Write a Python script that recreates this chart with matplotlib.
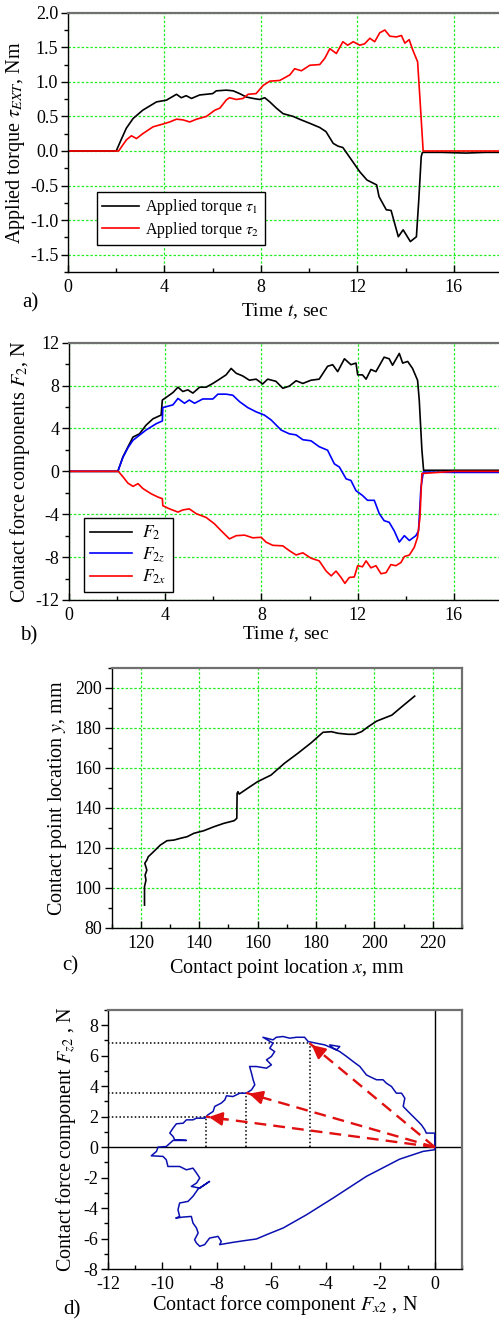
import matplotlib
matplotlib.use('Agg')
import matplotlib.pyplot as plt
from matplotlib.ticker import MultipleLocator

plt.rcParams['font.family'] = ['Liberation Serif', 'DejaVu Serif']
plt.rcParams['mathtext.fontset'] = 'stix'
plt.rcParams['axes.unicode_minus'] = False

# ---- panel a: applied torques ----
t_tau1 = [0, 2.0, 2.2, 2.42, 2.7, 3.1, 3.67, 4.08, 4.5, 4.7, 4.9, 5.12, 5.46, 6.0, 6.15, 6.57,
          6.85, 7.12, 7.4, 7.68, 7.95, 8.16, 8.37, 8.64, 8.92, 9.34, 9.6, 10.03, 10.44, 10.7,
          11.0, 11.2, 11.4, 11.7, 12.1, 12.4, 12.8, 12.9, 13.2, 13.4, 13.7, 13.9, 14.2, 14.45,
          14.55, 14.65, 14.7, 15.5, 16.5, 17.3, 18.0]
tau1 = [0, 0, 0.16, 0.33, 0.47, 0.59, 0.71, 0.735, 0.82, 0.77, 0.8, 0.76, 0.81, 0.83, 0.87, 0.88,
        0.87, 0.83, 0.78, 0.76, 0.745, 0.77, 0.71, 0.62, 0.54, 0.5, 0.46, 0.4, 0.34, 0.28,
        0.11, 0.07, 0.05, -0.1, -0.3, -0.42, -0.49, -0.66, -0.85, -0.86, -1.24, -1.14, -1.31, -1.24,
        -0.7, -0.08, -0.02, -0.02, -0.03, -0.02, -0.02]

t_tau2 = [0, 2.1, 2.42, 2.63, 2.84, 3.1, 3.53, 3.94, 4.22, 4.5, 4.77, 5.05, 5.33, 5.74, 6.09, 6.3,
          6.57, 6.7, 6.98, 7.26, 7.47, 7.8, 8.1, 8.37, 8.78, 9.2, 9.4, 9.68, 10.03, 10.44, 10.65,
          10.86, 11.13, 11.4, 11.6, 11.83, 12.1, 12.3, 12.52, 12.72, 12.93, 13.14, 13.35, 13.62,
          13.83, 13.97, 14.15, 14.3, 14.5, 14.6, 14.73, 16.0, 18.0]
tau2 = [0, 0, 0.16, 0.22, 0.18, 0.25, 0.35, 0.39, 0.42, 0.46, 0.45, 0.42, 0.46, 0.5, 0.59, 0.62,
        0.74, 0.77, 0.745, 0.76, 0.82, 0.83, 0.95, 1.01, 1.02, 1.1, 1.19, 1.16, 1.24, 1.25, 1.34,
        1.48, 1.41, 1.58, 1.53, 1.58, 1.53, 1.55, 1.63, 1.58, 1.71, 1.75, 1.66, 1.65,
        1.67, 1.56, 1.61, 1.46, 1.29, 0.74, 0.0, 0.0, 0.0]

# ---- panel b: contact force components ----
t_f2 = [0, 2.03, 2.24, 2.45, 2.66, 2.93, 3.2, 3.49, 3.83, 3.88, 4.04, 4.32, 4.53, 4.73, 4.94, 5.15,
        5.43, 5.7, 5.98, 6.26, 6.53, 6.74, 6.95, 7.22, 7.5, 7.78, 8.05, 8.26, 8.6, 8.89, 9.16,
        9.44, 9.72, 10.06, 10.4, 10.75, 10.96, 11.17, 11.45, 11.72, 11.93, 12.0, 12.2, 12.35,
        12.55, 12.76, 13.1, 13.31, 13.45, 13.73, 13.87, 14.08, 14.28, 14.49, 14.56, 14.67,
        14.74, 16.0, 18.0]
f2 = [0, 0, 1.34, 2.28, 3.2, 3.5, 4.3, 4.9, 5.25, 6.65, 6.9, 7.35, 7.85, 7.45, 7.6, 7.3,
      7.85, 7.85, 8.2, 8.6, 9.0, 9.6, 9.15, 8.9, 8.5, 8.6, 8.15, 8.6, 8.4, 7.75, 7.95,
      8.45, 8.2, 8.5, 8.6, 9.8, 9.95, 9.3, 10.5, 9.95, 10.1, 9.0, 9.0, 8.6,
      9.5, 9.3, 10.65, 10.5, 9.9, 11.0, 10.1, 10.25, 9.6, 8.5, 6.65, 2.0,
      0.1, 0.1, 0.1]

t_f2z = [0, 2.03, 2.24, 2.45, 2.66, 3.2, 3.63, 3.88, 3.9, 4.32, 4.53, 4.8, 5.0, 5.22, 5.56, 5.98,
         6.19, 6.53, 6.81, 7.09, 7.43, 7.78, 8.12, 8.4, 8.82, 9.16, 9.44, 9.72, 10.06, 10.4,
         10.75, 11.03, 11.24, 11.52, 11.72, 11.93, 12.2, 12.41, 12.69, 12.9, 13.1, 13.31, 13.52,
         13.73, 13.94, 14.15, 14.42, 14.53, 14.63, 14.73, 16.0, 18.0]
f2z = [0, 0, 1.3, 2.2, 2.9, 3.85, 4.45, 4.7, 5.95, 6.2, 6.8, 6.35, 6.65, 6.35, 6.75, 6.75,
       7.2, 7.2, 7.1, 6.5, 5.95, 5.55, 5.25, 4.8, 3.85, 3.5, 3.4, 2.95, 2.85, 2.3,
       1.97, 0.7, 0.4, -0.7, -0.85, -1.8, -2.25, -2.7, -2.7, -3.95, -4.6, -4.75, -5.55,
       -6.6, -6.0, -6.45, -6.0, -5.55, -1.5, -0.06, -0.1, -0.1]

t_f2x = [0, 2.05, 2.24, 2.45, 2.66, 2.87, 3.07, 3.42, 3.7, 3.88, 3.9, 4.18, 4.53, 4.73, 5.0, 5.29,
         5.7, 6.05, 6.33, 6.67, 6.95, 7.3, 7.64, 7.99, 8.19, 8.47, 8.89, 9.16, 9.44, 9.72,
         10.06, 10.4, 10.69, 10.9, 11.1, 11.31, 11.47, 11.65, 11.86, 12.0, 12.2, 12.35, 12.55,
         12.76, 12.97, 13.18, 13.38, 13.59, 13.8, 13.94, 14.15, 14.35, 14.49, 14.59, 14.67,
         16.0, 18.0]
f2x = [0, 0, -0.5, -1.1, -1.4, -1.15, -1.6, -2.1, -2.4, -2.55, -3.2, -3.5, -3.8, -3.6, -3.5, -3.95,
       -4.3, -4.9, -5.55, -6.3, -6.0, -5.95, -6.2, -6.15, -6.6, -6.9, -6.95, -7.4, -7.8, -7.6,
       -8.1, -8.35, -9.3, -9.75, -9.3, -9.9, -10.45, -9.9, -9.85, -8.8, -8.9, -8.35, -9.0,
       -8.8, -9.55, -9.45, -8.7, -8.8, -8.5, -7.95, -7.8, -7.1, -6.15, -4.3, -0.2,
       0.0, 0.0]

# ---- panel c: contact point trajectory ----
cx = [121.3, 121.3, 121.8, 121.5, 122.1, 121.4, 122.1, 122.6, 124.4, 126.7, 129.0, 131.3, 133.6,
      135.9, 138.2, 141.6, 145.1, 148.5, 152.0, 152.9, 153.0, 153.3, 153.7, 156.6, 160.0, 164.6,
      169.2, 173.8, 178.4, 182.4, 185.3, 187.6, 191.0, 193.3, 195.6, 197.9, 200.8, 206.0, 209.4,
      213.8]
cy = [91.3, 100.5, 103.8, 106.3, 108.8, 112.2, 113.8, 115.5, 118.0, 121.3, 123.5, 123.8, 124.7,
      125.5, 127.2, 128.5, 130.5, 132.2, 133.5, 134.7, 147.2, 148.0, 146.8, 149.7, 153.0, 156.3,
      162.2, 167.2, 172.5, 177.7, 178.0, 177.2, 176.7, 176.7, 178.0, 180.5, 183.3, 186.3, 190.5,
      195.8]

# ---- panel d: force hodograph ----
fx_loop = [0, 0, -0.31, -0.37, -0.49, -0.67, -0.92, -1.16, -1.1, -1.22, -1.41, -1.59, -1.78, -1.9,
           -2.14, -2.39, -2.51, -2.75, -3.0, -3.24, -3.49, -3.73, -3.86, -3.49, -3.61, -4.04,
           -4.35, -4.65, -4.78, -5.08, -5.33, -5.57, -5.82, -5.94, -6.31,
           -5.94, -6.06, -5.88, -6.0, -6.18, -6.0, -6.18, -6.55, -6.8, -6.73, -6.67, -6.61, -6.73,
           -6.92, -7.16, -7.41, -7.65, -7.71, -7.84, -8.08, -8.14, -8.33, -8.45, -8.75, -8.88,
           -9.12, -9.24, -9.49, -9.61, -9.73, -9.61, -9.55, -9.12, -9.61, -9.86, -10.16, -10.22,
           -10.41, -9.98, -9.86, -9.8, -9.37, -9.12, -8.88, -8.75, -8.63, -8.75, -8.94, -8.63,
           -8.27, -8.69, -8.88, -9.06, -9.37, -9.43, -9.37, -9.51, -9.24, -8.94, -8.88, -8.75,
           -8.69, -8.82, -8.75, -8.63, -8.45, -8.27, -7.96, -7.84, -7.9, -7.41, -6.92, -6.55,
           -6.18, -5.57, -4.71, -3.73, -2.51, -1.29, -0.43, 0, 0]
fz_loop = [0, 0.92, 0.92, 1.15, 1.46, 1.79, 2.23, 2.67, 3.21, 3.54, 3.54, 3.98, 4.2, 4.42,
           4.42, 4.63, 4.74, 5.29, 5.62, 5.95, 6.27, 6.49, 6.71, 6.6, 6.38, 6.71,
           6.82, 6.93, 7.21, 7.21, 7.15, 7.26, 7.21, 7.04, 7.21,
           6.82, 6.49, 6.27, 5.95, 5.73, 5.4, 5.18, 5.29, 5.29, 4.85, 4.42, 4.09, 3.76,
           3.54, 3.54, 3.32, 3.37, 3.1, 2.89, 2.67, 2.34, 2.12, 1.9, 1.9, 1.79,
           1.79, 1.57, 1.53, 1.25, 0.92, 0.7, 0.48, 0.44, 0.44, 0.04, 0.0, -0.28,
           -0.57, -0.61, -0.83, -1.27, -1.27, -1.49, -1.38, -1.7, -2.03, -2.36, -2.58, -2.69,
           -2.25, -2.75, -3.23, -3.56, -3.67, -4.11, -4.55, -4.66, -4.59, -4.55, -4.98, -5.31,
           -5.64, -6.08, -6.3, -6.51, -6.4, -5.97, -5.86, -6.19, -6.4, -6.25, -6.12, -6.03,
           -5.75, -5.31, -4.44, -3.34, -1.92, -0.79, -0.28, -0.17, 0]
arrow_fx = [-4.6, -6.92, -8.4]
arrow_fz = [6.82, 3.56, 2.0]

GRID_GREEN = '#22ee22'


def style_axes(ax):
    ax.spines['left'].set_color('black')
    ax.spines['bottom'].set_color('black')
    ax.spines['top'].set_color('#707070')
    ax.spines['right'].set_color('#707070')
    ax.spines['top'].set_linewidth(1.6)
    ax.spines['right'].set_linewidth(1.6)
    ax.spines['left'].set_linewidth(1.0)
    ax.spines['bottom'].set_linewidth(1.0)
    ax.tick_params(axis='y', which='major', direction='out', length=5, width=1, labelsize=13, pad=2)
    ax.tick_params(axis='y', which='minor', direction='out', length=3, width=1)
    ax.tick_params(axis='x', which='major', direction='in', length=5, width=1, labelsize=13, pad=5)
    ax.tick_params(axis='x', which='minor', direction='in', length=3, width=1)


def green_grid(ax):
    ax.grid(True, which='major', color=GRID_GREEN, linestyle=(0, (2, 1.5)), linewidth=0.9)
    ax.set_axisbelow(True)


fig = plt.figure(figsize=(4.99, 13.19), dpi=100)
H = 1319.0
W = 499.0


def add_axes_px(left, right, top, bottom):
    return fig.add_axes([left / W, 1 - bottom / H, (right - left) / W, (bottom - top) / H])


# panel a
ax1 = add_axes_px(68, 502, 12.7, 272)
ax1.plot(t_tau1, tau1, color='black', lw=1.2, label=r'Applied torque $\tau_{\mathrm{1}}$')
ax1.plot(t_tau2, tau2, color='red', lw=1.2, label=r'Applied torque $\tau_{\mathrm{2}}$')
ax1.set_xlim(0, 18)
ax1.set_ylim(-1.75, 2.0)
ax1.xaxis.set_major_locator(MultipleLocator(4))
ax1.xaxis.set_minor_locator(MultipleLocator(2))
ax1.yaxis.set_major_locator(MultipleLocator(0.5))
ax1.yaxis.set_minor_locator(MultipleLocator(0.25))
ax1.yaxis.set_major_formatter('{x:.1f}')
style_axes(ax1)
green_grid(ax1)
ax1.set_xlabel(r'Time $t$, sec', fontsize=14, labelpad=4)
ax1.set_ylabel(r'Applied torque $\tau_{EXT}$, Nm', fontsize=14.5, labelpad=2)
leg = ax1.legend(loc='upper left', bbox_to_anchor=(0.066, 0.31), borderaxespad=0, fontsize=11.5,
                 handlelength=2.3, handletextpad=0.4, fancybox=False, framealpha=1,
                 edgecolor='black', borderpad=0.35, labelspacing=0.15)
leg.get_frame().set_linewidth(1.0)

# panel b
ax2 = add_axes_px(69, 502, 342.7, 600)
ax2.plot(t_f2, f2, color='black', lw=1.2, label=r'$F_2$')
ax2.plot(t_f2z, f2z, color='blue', lw=1.2, label=r'$F_{2z}$')
ax2.plot(t_f2x, f2x, color='red', lw=1.2, label=r'$F_{2x}$')
ax2.set_xlim(0, 18)
ax2.set_ylim(-12, 12)
ax2.xaxis.set_major_locator(MultipleLocator(4))
ax2.xaxis.set_minor_locator(MultipleLocator(2))
ax2.yaxis.set_major_locator(MultipleLocator(4))
ax2.yaxis.set_minor_locator(MultipleLocator(2))
style_axes(ax2)
green_grid(ax2)
ax2.set_xlabel(r'Time $t$, sec', fontsize=14, labelpad=0)
ax2.set_ylabel(r'Contact force components $F_2$, N', fontsize=14.5, labelpad=2)
leg = ax2.legend(loc='upper left', bbox_to_anchor=(0.035, 0.319), borderaxespad=0, fontsize=12.5,
                 handlelength=2.4, handletextpad=0.6, fancybox=False, framealpha=1,
                 edgecolor='black', borderpad=0.35, labelspacing=0.2)
leg.get_frame().set_linewidth(1.0)

# panel c
ax3 = add_axes_px(111.5, 462, 667.7, 927.7)
ax3.plot(cx, cy, color='black', lw=1.2)
ax3.set_xlim(110, 230)
ax3.set_ylim(80, 210)
ax3.set_xticks([120, 140, 160, 180, 200, 220])
ax3.xaxis.set_minor_locator(MultipleLocator(10))
ax3.yaxis.set_major_locator(MultipleLocator(20))
ax3.yaxis.set_minor_locator(MultipleLocator(10))
style_axes(ax3)
green_grid(ax3)
ax3.set_xlabel(r'Contact point location $x$, mm', fontsize=14.5, labelpad=4)
ax3.set_ylabel(r'Contact point location $y$, mm', fontsize=14.5, labelpad=4)

# panel d
ax4 = add_axes_px(108, 462, 1010, 1269)
ax4.axhline(0, color='black', lw=1.0)
ax4.axvline(0, color='black', lw=1.0)
for fx, fz in zip(arrow_fx, arrow_fz):
    ax4.plot([-12, fx], [fz, fz], color='black', lw=1.1, linestyle=(0, (1, 1.5)))
    ax4.plot([fx, fx], [0, fz], color='black', lw=1.1, linestyle=(0, (1, 1.5)))
ax4.plot(fx_loop, fz_loop, color='#0a10b0', lw=1.1)
for fx, fz in zip(arrow_fx, arrow_fz):
    ax4.plot([0, fx], [0, fz], color='#e01010', lw=1.7, linestyle=(0, (5, 3)))
    ax4.annotate('', xy=(fx, fz), xytext=(fx * 0.9, fz * 0.9),
                 arrowprops=dict(arrowstyle='-|>,head_length=0.8,head_width=0.4',
                                 color='#e01010', lw=1.7))
ax4.set_xlim(-12, 1)
ax4.set_ylim(-8, 9)
ax4.xaxis.set_major_locator(MultipleLocator(2))
ax4.xaxis.set_minor_locator(MultipleLocator(1))
ax4.yaxis.set_major_locator(MultipleLocator(2))
ax4.yaxis.set_minor_locator(MultipleLocator(1))
ax4.set_xticks([-12, -10, -8, -6, -4, -2, 0])
style_axes(ax4)
ax4.set_xlabel(r'Contact force component $F_{x2}$ , N', fontsize=14.5, labelpad=0)
ax4.set_ylabel(r'Contact force component $F_{z2}$ , N', fontsize=14.5, labelpad=4)

# panel letters
fig.text(22 / W, 1 - 303 / H, 'a)', fontsize=15, va='center', ha='left')
fig.text(20 / W, 1 - 636 / H, 'b)', fontsize=15, va='center', ha='left')
fig.text(62 / W, 1 - 966 / H, 'c)', fontsize=15, va='center', ha='left')
fig.text(63 / W, 1 - 1310 / H, 'd)', fontsize=15, va='center', ha='left')

fig.savefig('out.png', dpi=100)
